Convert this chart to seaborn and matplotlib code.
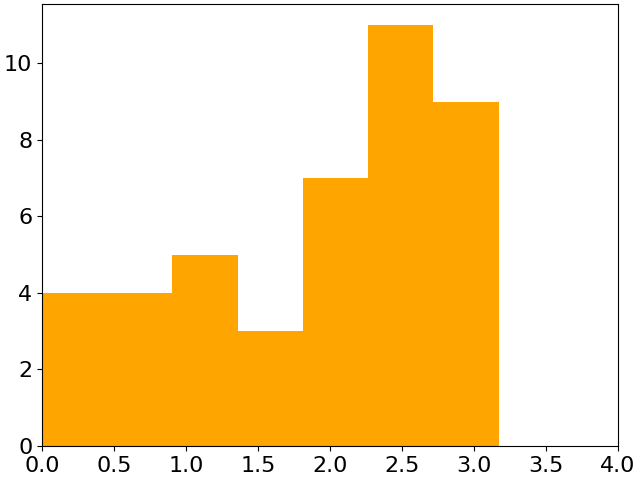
import matplotlib
matplotlib.use("Agg")
import matplotlib.pyplot as plt
import seaborn as sns

# histogram bins
bin_edges = [0.0, 0.453, 0.906, 1.359, 1.812, 2.265, 2.718, 3.171]
bin_counts = [4, 4, 5, 3, 7, 11, 9]

bin_centers = [(a + b) / 2 for a, b in zip(bin_edges[:-1], bin_edges[1:])]

sns.set_style("ticks")
plt.rcParams["font.family"] = ["DejaVu Sans"]

fig, ax = plt.subplots(figsize=(6.4, 4.8), dpi=100)
sns.histplot(x=bin_centers, weights=bin_counts, bins=bin_edges,
             element="bars", color="#ffa500", alpha=1.0, linewidth=0, ax=ax)

ax.set_xlim(0, 4)
ax.set_ylim(0, max(bin_counts) * 1.05)
ax.set_xlabel("")
ax.set_ylabel("")
ax.tick_params(labelsize=16, colors="black")
for s in ax.spines.values():
    s.set_visible(True)
    s.set_color("black")

fig.subplots_adjust(left=0.0656, right=0.9656, top=0.9917, bottom=0.0708)
fig.savefig("out.png", dpi=100)
